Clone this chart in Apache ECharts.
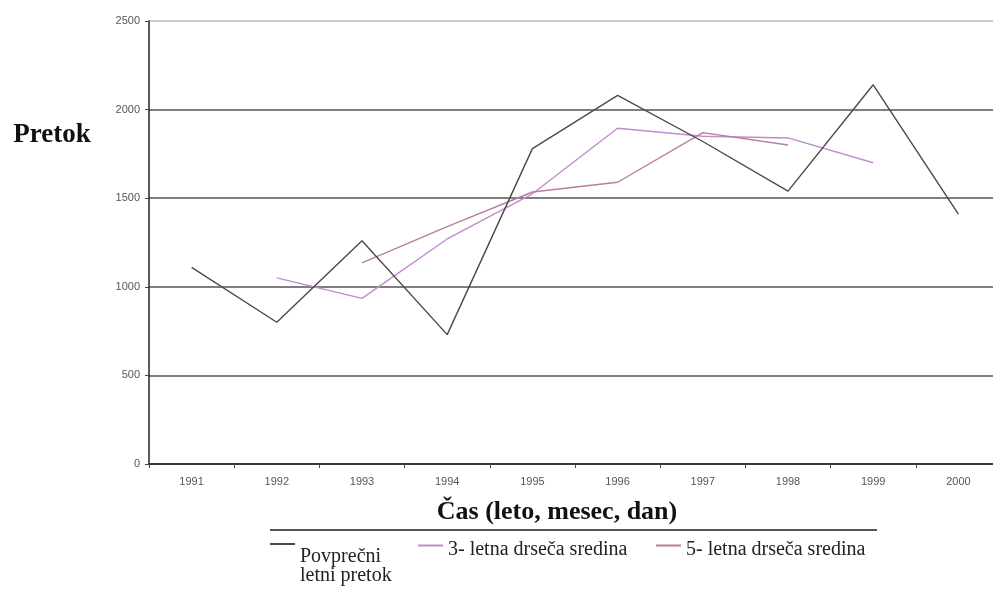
<!DOCTYPE html>
<html>
<head>
<meta charset="utf-8">
<script src="https://cdn.jsdelivr.net/npm/echarts@6/dist/echarts.min.js"></script>
<style>
html,body{margin:0;padding:0;background:#fff;}
#chart{width:993px;height:590px;}
</style>
</head>
<body>
<div id="chart"></div>
<script>
const years = ['1991','1992','1993','1994','1995','1996','1997','1998','1999','2000'];
const yTicks = [0, 500, 1000, 1500, 2000, 2500];
const flow = [1110, 800, 1260, 730, 1780, 2080, 1820, 1540, 2140, 1410];
const ma3 = [null, 1050, 935, 1270, 1525, 1895, 1850, 1840, 1700, null];
const ma5 = [null, null, 1135, 1340, 1535, 1590, 1870, 1800, null, null];
const names = ['Povprečni letni pretok', '3- letna drseča sredina', '5- letna drseča sredina'];
const yName = 'Pretok';
const xName = 'Čas (leto, mesec, dan)';

const colors = ['#4a4a4a', '#c08ccc', '#b77f9c'];
const serif = '"Liberation Serif", "DejaVu Serif", serif';

const chart = echarts.init(document.getElementById('chart'), null, {renderer: 'canvas'});

function legendOf(i, left, top, h) {
  return {
    data: [names[i]],
    left: left,
    top: top,
    padding: 0,
    itemWidth: 25,
    itemHeight: h,
    itemGap: 0,
    symbolKeepAspect: false,
    icon: 'path://M0,0 L25,0 L25,2 L0,2 Z M0,' + h + ' L0.01,' + h,
    itemStyle: {borderWidth: 0},
    selectedMode: false,
    formatter: function (n) { return n === names[0] ? 'Povprečni\nletni pretok' : n; },
    textStyle: {
      fontFamily: serif,
      fontSize: 20,
      color: '#222',
      lineHeight: 19
    }
  };
}

chart.setOption({
  backgroundColor: '#ffffff',
  animation: false,
  grid: {left: 149, right: -8, top: 21, bottom: 126, containLabel: false, outerBoundsMode: 'none'},
  xAxis: {
    type: 'category',
    data: years,
    boundaryGap: true,
    axisLine: {show: true, lineStyle: {color: '#222', width: 1.5}},
    axisTick: {show: true, alignWithLabel: false, length: 4, lineStyle: {color: '#444'}},
    axisLabel: {color: '#555', fontSize: 11, fontFamily: '"Liberation Sans", Arial, sans-serif', margin: 12},
    splitLine: {show: false}
  },
  yAxis: {
    type: 'value',
    min: yTicks[0],
    max: yTicks[yTicks.length - 1],
    interval: 500,
    axisLine: {show: true, lineStyle: {color: '#222', width: 1.5}},
    axisTick: {show: true, length: 4, lineStyle: {color: '#444'}},
    axisLabel: {color: '#555', fontSize: 11, fontFamily: '"Liberation Sans", Arial, sans-serif', margin: 9,
      formatter: function (v) { return String(v); }},
    splitLine: {show: true, lineStyle: {color: ['#555', '#555', '#555', '#555', '#555', '#bbb'], width: 1.5}}
  },
  legend: [
    legendOf(0, 270, 543, 46),
    legendOf(1, 418, 540, 11),
    legendOf(2, 656, 540, 11)
  ],
  graphic: [
    {type: 'text', x: 52, y: 135, style: {text: yName, font: 'bold 27px ' + serif, fill: '#111', align: 'center', verticalAlign: 'middle'}},
    {type: 'text', x: 557, y: 512, style: {text: xName, font: 'bold 26px ' + serif, fill: '#111', align: 'center', verticalAlign: 'middle'}},
    {type: 'line', shape: {x1: 270, y1: 530, x2: 877, y2: 530}, style: {stroke: '#555', lineWidth: 2}}
  ],
  series: [
    {name: names[0], type: 'line', data: flow, symbol: 'none', color: colors[0], lineStyle: {color: colors[0], width: 1.4}, z: 3},
    {name: names[1], type: 'line', data: ma3, symbol: 'none', color: colors[1], lineStyle: {color: colors[1], width: 1.4}, z: 2},
    {name: names[2], type: 'line', data: ma5, symbol: 'none', color: colors[2], lineStyle: {color: colors[2], width: 1.4}, z: 2}
  ]
});
</script>
</body>
</html>
